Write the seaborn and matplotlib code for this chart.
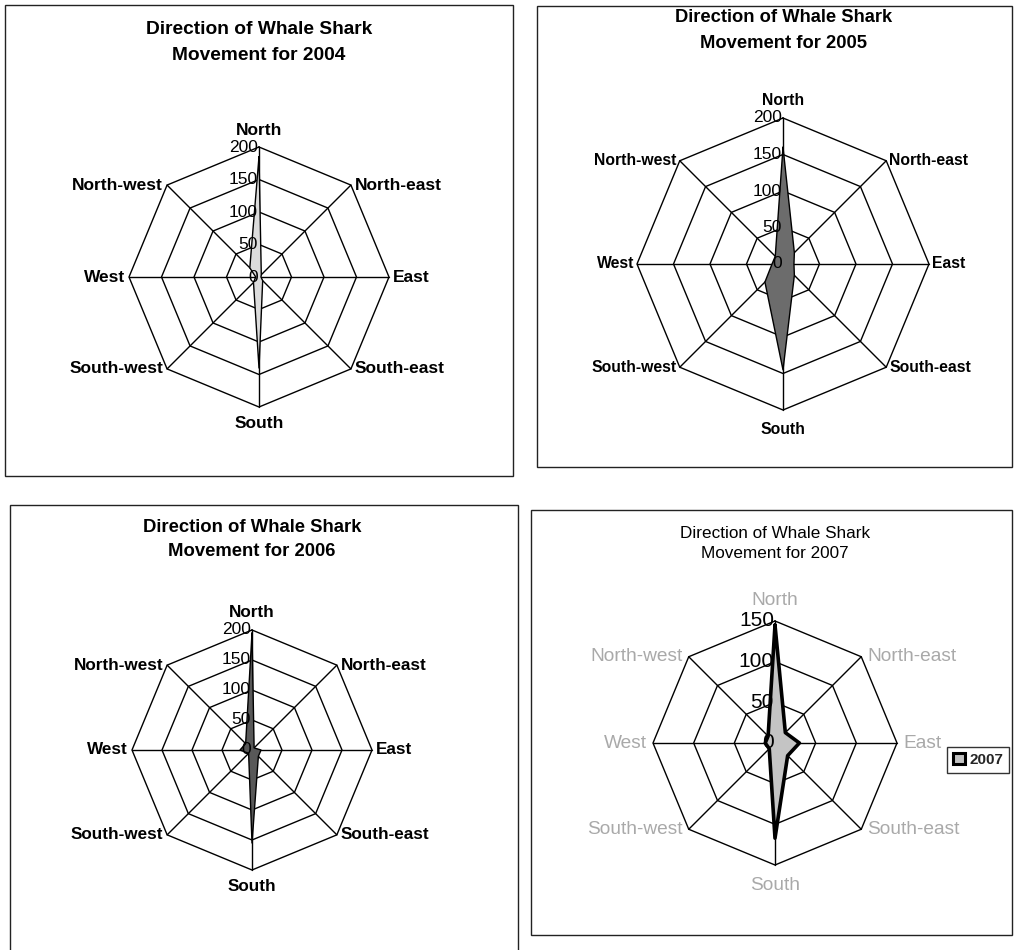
import numpy as np
import pandas as pd
import matplotlib
matplotlib.use("Agg")
import matplotlib.pyplot as plt
from matplotlib.patches import Rectangle, Patch
import seaborn as sns

# Compass directions, clockwise from North
directions = ["North", "North-east", "East", "South-east",
              "South", "South-west", "West", "North-west"]

# Number of whale shark movements in each direction, per year
moves_2004 = [185, 5, 3, 8, 140, 12, 5, 20]
moves_2005 = [160, 22, 15, 22, 145, 35, 15, 15]
moves_2006 = [195, 5, 15, 15, 155, 8, 20, 15]
moves_2007 = [145, 18, 30, 22, 117, 10, 12, 12]

years = ["2004", "2005", "2006", "2007"]
ring_ticks_a = [0, 50, 100, 150, 200]
ring_ticks_b = [0, 50, 100, 150]

sns.set_theme(style="white")
plt.rcParams["font.family"] = ["Liberation Sans", "DejaVu Sans"]

W, H = 1017, 950
fig = plt.figure(figsize=(W / 100, H / 100), dpi=100)
fig.patch.set_facecolor("white")


def fx(x):
    return x / W


def fy(y):
    return 1 - y / H


panels = [
    dict(values=moves_2004, year=years[0], ticks=ring_ticks_a,
         box=(5, 5, 513, 476), center=(259, 277), radius=130,
         title=(259, 30, 55), fill="#dcdcdc", lw=1.0, bold=True,
         label_color="black", label_size=12.5, tick_size=12.5, title_size=13.8,
         n_off=9, s_off=9, side_off=4),
    dict(values=moves_2005, year=years[1], ticks=ring_ticks_a,
         box=(537, 6, 1012, 467), center=(783, 264), radius=146,
         title=(784, 18, 44), fill="#6c6c6c", lw=1.0, bold=True,
         label_color="black", label_size=11.3, tick_size=12.5, title_size=13.2,
         n_off=10, s_off=12, side_off=3),
    dict(values=moves_2006, year=years[2], ticks=ring_ticks_a,
         box=(10, 505, 518, 960), center=(252, 750), radius=120,
         title=(252, 527, 552), fill="#585858", lw=1.0, bold=True,
         label_color="black", label_size=12.3, tick_size=12.5, title_size=13.3,
         n_off=10, s_off=9, side_off=4),
    dict(values=moves_2007, year=years[3], ticks=ring_ticks_b,
         box=(531, 510, 1012, 935), center=(775, 743), radius=122,
         title=(775, 533, 554), fill="#c4c4c4", lw=2.6, bold=False,
         label_color="#a9a9a9", label_size=13.8, tick_size=15, title_size=12.3,
         n_off=12, s_off=12, side_off=6),
]

angles = np.deg2rad(90 - 45 * np.arange(len(directions)))

for p in panels:
    x0, y0, x1, y1 = p["box"]
    fig.add_artist(Rectangle((fx(x0), fy(y1)), fx(x1) - fx(x0), fy(y0) - fy(y1),
                             transform=fig.transFigure, fill=False,
                             edgecolor="#222222", linewidth=1.0))
    tx, ty1, ty2 = p["title"]
    weight = "bold" if p["bold"] else "normal"
    fig.text(fx(tx), fy(ty1), "Direction of Whale Shark", ha="center", va="center",
             fontsize=p["title_size"], fontweight=weight, color="black")
    fig.text(fx(tx), fy(ty2), f"Movement for {p['year']}", ha="center", va="center",
             fontsize=p["title_size"], fontweight=weight, color="black")

    cx, cy = p["center"]
    R = p["radius"]
    rmax = p["ticks"][-1]
    k = rmax / R  # data units per pixel
    half = R * 1.06
    ax = fig.add_axes([fx(cx - half), fy(cy + half), 2 * half / W, 2 * half / H])
    ax.set_xlim(-half * k, half * k)
    ax.set_ylim(-half * k, half * k)
    ax.axis("off")

    # octagonal grid rings and spokes
    ca = np.append(np.cos(angles), np.cos(angles[0]))
    sa = np.append(np.sin(angles), np.sin(angles[0]))
    for r in p["ticks"][1:]:
        ax.plot(r * ca, r * sa, color="black", lw=1.0, zorder=1)
    for a in angles:
        ax.plot([0, rmax * np.cos(a)], [0, rmax * np.sin(a)], color="black", lw=1.0, zorder=1)

    # data polygon
    vals = np.array(p["values"], dtype=float)
    df = pd.DataFrame({
        "x": np.append(vals * np.cos(angles), vals[0] * np.cos(angles[0])),
        "y": np.append(vals * np.sin(angles), vals[0] * np.sin(angles[0])),
    })
    ax.fill(df["x"], df["y"], color=p["fill"], zorder=2, lw=0)
    sns.lineplot(data=df, x="x", y="y", sort=False, estimator=None, ax=ax,
                 color="black", lw=p["lw"], zorder=3)
    ax.axis("off")

    # direction labels
    so = p["side_off"]
    for name, a in zip(directions, angles):
        vx, vy = rmax * np.cos(a), rmax * np.sin(a)
        if name == "North":
            pos, ha, va = (vx, vy + p["n_off"] * k), "center", "bottom"
        elif name == "South":
            pos, ha, va = (vx, vy - p["s_off"] * k), "center", "top"
        elif np.cos(a) > 0.1:
            pos, ha, va = (vx + so * k, vy), "left", "center"
        else:
            pos, ha, va = (vx - so * k, vy), "right", "center"
        ax.text(pos[0], pos[1], name, ha=ha, va=va, fontsize=p["label_size"],
                fontweight=weight, color=p["label_color"], zorder=5)

    # ring value labels on the North spoke
    for r in p["ticks"]:
        ax.text(-1 * k, r, str(r), ha="right", va="center",
                fontsize=p["tick_size"], color="black", zorder=4)

# legend for the 2007 chart
handle = Patch(facecolor="#c4c4c4", edgecolor="black", linewidth=2.2, label="2007")
leg = fig.legend(handles=[handle], loc="center", bbox_to_anchor=(fx(978), fy(760)),
                 frameon=True, fancybox=False, edgecolor="black", handlelength=0.75,
                 handleheight=0.75, handletextpad=0.3, borderpad=0.4,
                 prop={"size": 11, "weight": "bold"})
leg.get_frame().set_linewidth(1.0)

fig.savefig("out.png", dpi=100, facecolor="white")
